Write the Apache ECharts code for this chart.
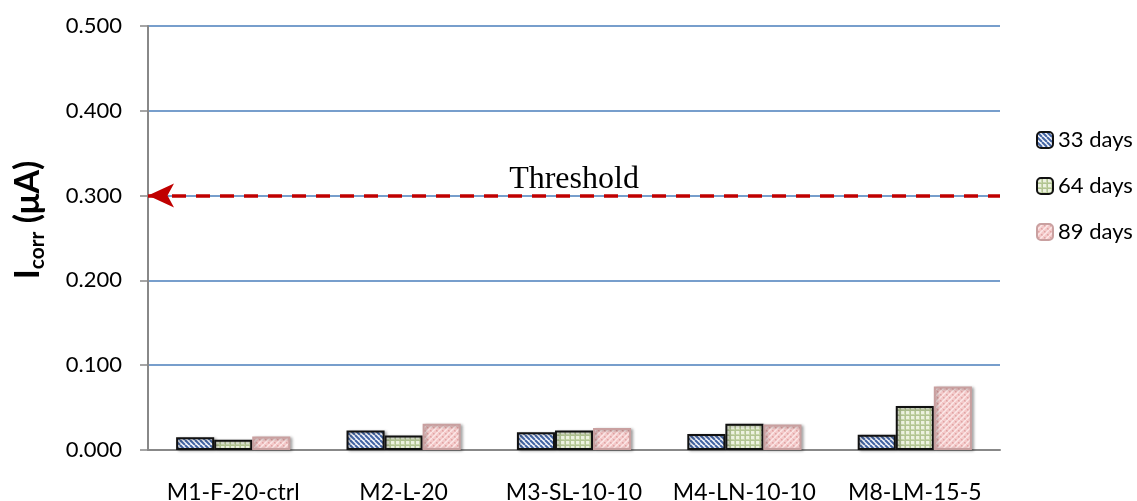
<!DOCTYPE html>
<html>
<head>
<meta charset="utf-8">
<script src="https://cdn.jsdelivr.net/npm/echarts@6/dist/echarts.min.js"></script>
<style>
  html, body { margin: 0; padding: 0; background: #fff; }
  #chart { width: 1137px; height: 501px; }
</style>
</head>
<body>
<div id="chart"></div>
<script>
// Specimens and corrosion current readings (µA)
const categories = ['M1-F-20-ctrl', 'M2-L-20', 'M3-SL-10-10', 'M4-LN-10-10', 'M8-LM-15-5'];
const seriesNames = ['33 days', '64 days', '89 days'];
const days33 = [0.015, 0.023, 0.021, 0.019, 0.018];
const days64 = [0.012, 0.017, 0.023, 0.031, 0.052];
const days89 = [0.016, 0.031, 0.026, 0.030, 0.075];
const thresholdValue = 0.300;
const yTicks = { min: 0, max: 0.5, interval: 0.1 };

// Small repeating fill patterns for the bars
function makePattern(size, draw) {
  const c = document.createElement('canvas');
  c.width = size; c.height = size;
  draw(c.getContext('2d'), size);
  return c;
}
const stripeBlue = makePattern(5, (g, s) => {
  g.fillStyle = '#f4f6fb'; g.fillRect(0, 0, s, s);
  g.strokeStyle = '#4264a3'; g.lineWidth = 2;
  for (let k = -s; k <= 2 * s; k += s) {
    g.beginPath(); g.moveTo(k, 0); g.lineTo(k + s, s); g.stroke();
  }
});
const gridGreen = makePattern(5, (g, s) => {
  g.fillStyle = '#c9d8ad'; g.fillRect(0, 0, s, s);
  g.fillStyle = '#edf2e1'; g.fillRect(1, 1, 3, 3);
  g.fillStyle = '#b2c493'; g.fillRect(0, 0, s, 1); g.fillRect(0, 0, 1, s);
});
const dotsPink = makePattern(6, (g, s) => {
  g.fillStyle = '#f3c8c8'; g.fillRect(0, 0, s, s);
  g.strokeStyle = '#fbe8e8'; g.lineWidth = 1.5;
  g.beginPath(); g.moveTo(0, s); g.lineTo(s, 0); g.stroke();
  g.fillStyle = '#e0a3a3'; g.fillRect(1, 1, 1.5, 1.5); g.fillRect(4, 4, 1.5, 1.5);
});

const fills = [stripeBlue, gridGreen, dotsPink];
const borders = ['#111111', '#111111', '#c9a0a0'];
const values = [days33, days64, days89];

const chart = echarts.init(document.getElementById('chart'));

const series = seriesNames.map((name, i) => ({
  name,
  type: 'bar',
  data: values[i],
  barGap: '0%',
  barCategoryGap: '33%',
  itemStyle: {
    color: { image: fills[i], repeat: 'repeat' },
    borderColor: borders[i],
    borderWidth: 2,
    shadowBlur: 3,
    shadowOffsetX: 2,
    shadowOffsetY: 1,
    shadowColor: 'rgba(0,0,0,0.3)'
  },
  emphasis: { disabled: true }
}));

// Threshold line with arrowhead pointing at the axis
series[0].markLine = {
  silent: true,
  symbol: ['arrow', 'none'],
  symbolSize: [18, 26],
  lineStyle: { color: '#c00000', type: [14, 10], width: 3.5 },
  label: {
    show: true,
    position: 'insideMiddleTop',
    formatter: 'Threshold',
    color: '#000',
    fontFamily: 'Liberation Serif',
    fontSize: 32,
    distance: 0
  },
  data: [{ yAxis: thresholdValue }]
};

chart.setOption({
  animation: false,
  backgroundColor: '#ffffff',
  grid: { left: 148, right: 137, top: 26, bottom: 51, containLabel: false, outerBoundsMode: 'none' },
  legend: {
    orient: 'vertical',
    left: 1031,
    top: 124,
    itemGap: 24,
    itemWidth: 16,
    itemHeight: 16,
    data: seriesNames,
    textStyle: { fontFamily: 'Lato', fontSize: 22, color: '#000' }
  },
  xAxis: {
    type: 'category',
    data: categories,
    axisLine: { lineStyle: { color: '#888', width: 2 } },
    axisTick: { show: false },
    axisLabel: {
      fontFamily: 'Lato', fontSize: 23, color: '#000', margin: 31,
      interval: 0, hideOverlap: false
    }
  },
  yAxis: {
    type: 'value',
    min: yTicks.min,
    max: yTicks.max,
    interval: yTicks.interval,
    axisLine: { show: true, lineStyle: { color: '#888', width: 2 } },
    axisTick: { show: true, length: 8, lineStyle: { color: '#888', width: 1.5 } },
    splitLine: { lineStyle: { color: '#4a7ebb', width: 1.5 } },
    axisLabel: {
      fontFamily: 'Lato', fontSize: 22, color: '#000', margin: 26,
      formatter: v => v.toFixed(3)
    }
  },
  graphic: [{
    type: 'text',
    x: 28,
    y: 220,
    rotation: Math.PI / 2,
    style: {
      text: '{b|I}{s|corr}{b| (μA)}',
      align: 'center',
      verticalAlign: 'middle',
      rich: {
        b: { fontFamily: 'Lato', fontWeight: 'bold', fontSize: 34, fill: '#000' },
        s: { fontFamily: 'Lato', fontWeight: 'bold', fontSize: 21, fill: '#000', padding: [18, 0, 0, 0] }
      }
    }
  }],
  series
});
</script>
</body>
</html>
